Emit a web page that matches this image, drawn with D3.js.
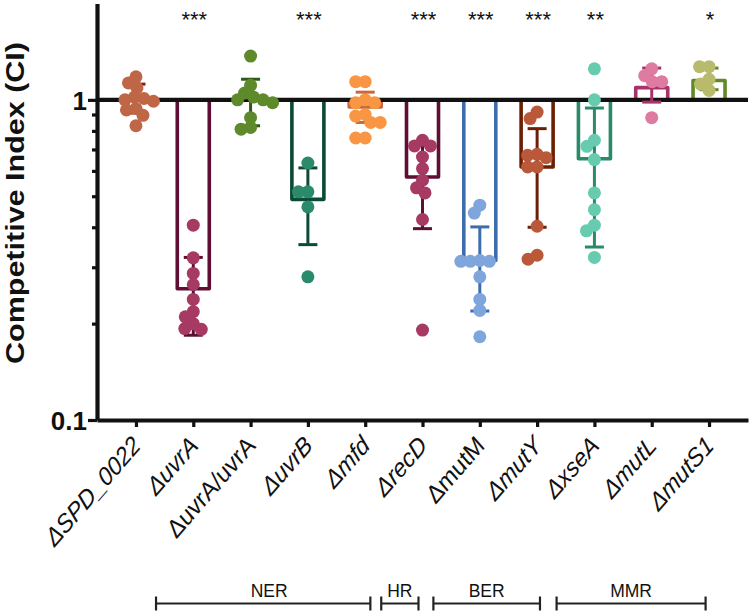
<!DOCTYPE html>
<html>
<head>
<meta charset="utf-8">
<script src="https://cdn.jsdelivr.net/npm/d3@7"></script>
<style>
  html, body { margin: 0; padding: 0; background: #fff; }
  svg { display: block; font-family: "Liberation Sans", Arial, sans-serif; }
</style>
</head>
<body>
<svg id="chart" width="750" height="613"></svg>
<script>
// ---------------- data ----------------
const categories = ["ΔSPD_0022", "ΔuvrA", "ΔuvrA/uvrA", "ΔuvrB", "Δmfd", "ΔrecD", "ΔmutM", "ΔmutY", "ΔxseA", "ΔmutL", "ΔmutS1"];
const italicLabel = [true, true, false, true, true, true, false, true, true, true, true];
const means  = [1.00, 0.257, 1.00, 0.489, 0.95, 0.574, 0.315, 0.617, 0.655, 1.092, 1.15];
const sdLow  = [0.91, 0.184, 0.83, 0.353, 0.85, 0.396, 0.219, 0.400, 0.347, 0.984, 1.076];
const sdHigh = [1.12, 0.322, 1.16, 0.613, 1.057, 0.733, 0.401, 0.813, 0.943, 1.257, 1.257];
const pointsSPD   = [1.18, 1.13, 1.09, 1.02, 1.01, 1.00, 0.99, 0.94, 0.93, 0.895, 0.83];
const pointsUvrA  = [0.406, 0.321, 0.287, 0.265, 0.238, 0.218, 0.210, 0.200, 0.192, 0.193];
const pointsComp  = [1.37, 1.11, 1.05, 1.02, 1.00, 1.00, 0.98, 0.88, 0.82, 0.81];
const pointsUvrB  = [0.635, 0.516, 0.516, 0.463, 0.28];
const pointsMfd   = [1.14, 1.14, 1.00, 0.98, 0.98, 0.90, 0.89, 0.85, 0.85, 0.76, 0.76];
const pointsRecD  = [0.748, 0.718, 0.718, 0.663, 0.61, 0.561, 0.531, 0.512, 0.423, 0.191];
const pointsMutM  = [0.469, 0.443, 0.315, 0.313, 0.313, 0.313, 0.28, 0.238, 0.22, 0.182];
const pointsMutY  = [0.916, 0.874, 0.676, 0.671, 0.66, 0.617, 0.617, 0.403, 0.327, 0.318];
const pointsXseA  = [1.25, 1.00, 0.748, 0.716, 0.651, 0.512, 0.454, 0.406, 0.39, 0.322];
const pointsMutL  = [1.25, 1.19, 1.14, 1.14, 0.88];
const pointsMutS1 = [1.27, 1.27, 1.16, 1.12, 1.07];
const allPoints = [pointsSPD, pointsUvrA, pointsComp, pointsUvrB, pointsMfd, pointsRecD,
                   pointsMutM, pointsMutY, pointsXseA, pointsMutL, pointsMutS1];
const stars = ["", "***", "", "***", "", "***", "***", "***", "**", "", "*"];
const pointColors = ["#bf6647", "#a63a63", "#5f8a2b", "#2c8a6c", "#f99643", "#a63a63",
                     "#7fa6dc", "#b9593a", "#67cbb0", "#df7aa0", "#b9bb6c"];
const barColors   = ["#7b2210", "#5e0f33", "#2f5a15", "#0b4a35", "#c8683e", "#5e0f33",
                     "#3d6dab", "#6c1f05", "#2a8a6a", "#a8336a", "#5f8a2a"];
const groups      = ["NER", "HR", "BER", "MMR"];
const groupStart  = [0.35, 4.28, 5.19, 7.34];   // in category-index units
const groupEnd    = [4.09, 4.93, 7.05, 9.94];
const yMajor = [0.1, 1];
const yMinor = [0.2, 0.3, 0.4, 0.5, 0.6, 0.7, 0.8, 0.9];

// ---------------- layout ----------------
const plotLeft = 97, plotRight = 748, plotTop = 3.5, plotBottom = 420;
const svg = d3.select("#chart");

const x = d3.scalePoint().domain(categories).range([plotLeft, plotRight]).padding(0.68);
const y = d3.scaleLog().domain([0.1, 2]).range([plotBottom, plotTop]);
const idx = d3.scaleLinear().domain([0, categories.length - 1]).range([x(categories[0]), x(categories[categories.length - 1])]);

const barW = 32, capW = 19, r = 6.5;

// bars
svg.append("g").selectAll("rect").data(categories).join("rect")
  .attr("x", d => x(d) - barW / 2)
  .attr("width", barW)
  .attr("y", (d, i) => Math.min(y(means[i]), y(1)))
  .attr("height", (d, i) => Math.abs(y(means[i]) - y(1)))
  .attr("fill", "none")
  .attr("stroke", (d, i) => barColors[i])
  .attr("stroke-width", 3.6)
  .attr("stroke-linejoin", "round");

// reference line at 1
svg.append("line")
  .attr("x1", plotLeft).attr("x2", plotRight)
  .attr("y1", y(1)).attr("y2", y(1))
  .attr("stroke", "#111").attr("stroke-width", 4.2);

// error bars
const eg = svg.append("g");
categories.forEach((c, i) => {
  const cx = x(c);
  const col = barColors[i];
  eg.append("line").attr("x1", cx).attr("x2", cx).attr("y1", y(sdLow[i])).attr("y2", y(sdHigh[i]))
    .attr("stroke", col).attr("stroke-width", 3);
  [sdLow[i], sdHigh[i]].forEach(v => {
    eg.append("line").attr("x1", cx - capW / 2).attr("x2", cx + capW / 2).attr("y1", y(v)).attr("y2", y(v))
      .attr("stroke", col).attr("stroke-width", 3);
  });
});

// beeswarm points
function swarm(vals, cx) {
  const D = 9.5;
  const placed = [];
  const items = vals.map(v => ({ v, py: y(v) })).sort((a, b) => a.py - b.py);
  items.forEach(p => {
    for (let k = 0; k < 400; k++) {
      const off = (k % 2 === 0 ? 1 : -1) * Math.ceil(k / 2) * 0.5;
      const px = cx + off;
      if (placed.every(q => Math.hypot(q.px - px, q.py - p.py) >= D)) {
        p.px = px; placed.push(p); break;
      }
    }
  });
  return placed;
}
const pg = svg.append("g");
categories.forEach((c, i) => {
  pg.selectAll(null).data(swarm(allPoints[i], x(c))).join("circle")
    .attr("cx", d => d.px).attr("cy", d => d.py).attr("r", r)
    .attr("fill", pointColors[i]);
});

// axes
const yAxis = svg.append("g").attr("transform", `translate(${plotLeft},0)`)
  .call(d3.axisLeft(y).tickValues(yMajor).tickFormat(d => d === 1 ? "1" : "0.1").tickSize(9).tickSizeOuter(0));
const yMinorAxis = svg.append("g").attr("transform", `translate(${plotLeft},0)`)
  .call(d3.axisLeft(y).tickValues(yMinor).tickFormat("").tickSize(5).tickSizeOuter(0));
yMinorAxis.select(".domain").remove();
[yAxis, yMinorAxis].forEach(g => {
  g.select(".domain").attr("stroke", "#111").attr("stroke-width", 4.2);
  g.selectAll(".tick line").attr("stroke", "#111").attr("stroke-width", 3.2);
});
yAxis.selectAll(".tick text")
  .attr("font-family", "'Liberation Sans', Arial, sans-serif")
  .attr("font-size", 26).attr("font-weight", "bold").attr("fill", "#111")
  .attr("x", -10).attr("dy", "0.36em");

const xAxis = svg.append("g").attr("transform", `translate(0,${plotBottom})`)
  .call(d3.axisBottom(x).tickSize(7).tickSizeOuter(0).tickFormat(""));
xAxis.select(".domain").attr("stroke", "#111").attr("stroke-width", 4.2);
xAxis.selectAll(".tick line").attr("stroke", "#111").attr("stroke-width", 3.2);

// x labels
svg.append("g").selectAll("text").data(categories).join("text")
  .attr("transform", d => `translate(${x(d) + 6},${plotBottom + 27}) scale(1,1.15) rotate(-45)`)
  .attr("text-anchor", "end")
  .attr("font-size", 22.5)
  .attr("font-style", (d, i) => italicLabel[i] ? "italic" : "normal")
  .attr("fill", "#111")
  .text(d => d);

// y label
svg.append("text")
  .attr("transform", `translate(24,${(40 + 366) / 2}) rotate(-90)`)
  .attr("text-anchor", "middle")
  .attr("font-size", 25).attr("font-weight", "bold").attr("fill", "#111")
  .attr("textLength", 322).attr("lengthAdjust", "spacingAndGlyphs")
  .text("Competitive Index (CI)");

// significance stars
svg.append("g").selectAll("text").data(categories).join("text")
  .attr("x", d => x(d) + 1).attr("y", 26.5)
  .attr("text-anchor", "middle")
  .attr("font-size", 22).attr("fill", "#111")
  .text((d, i) => stars[i]);

// group brackets
const bg = svg.append("g");
const by = 603.5, bh = 7;
groups.forEach((g, i) => {
  const x1 = idx(groupStart[i]), x2 = idx(groupEnd[i]);
  bg.append("line").attr("x1", x1).attr("x2", x2).attr("y1", by).attr("y2", by)
    .attr("stroke", "#222").attr("stroke-width", 2.2);
  [x1, x2].forEach(xx => bg.append("line").attr("x1", xx).attr("x2", xx)
    .attr("y1", by - bh).attr("y2", by + bh).attr("stroke", "#222").attr("stroke-width", 2.2));
  bg.append("text").attr("x", (x1 + x2) / 2 + (i === 0 ? 6 : 0)).attr("y", 596.5)
    .attr("text-anchor", "middle").attr("font-size", 17.5).attr("fill", "#111").text(g);
});
</script>
</body>
</html>
